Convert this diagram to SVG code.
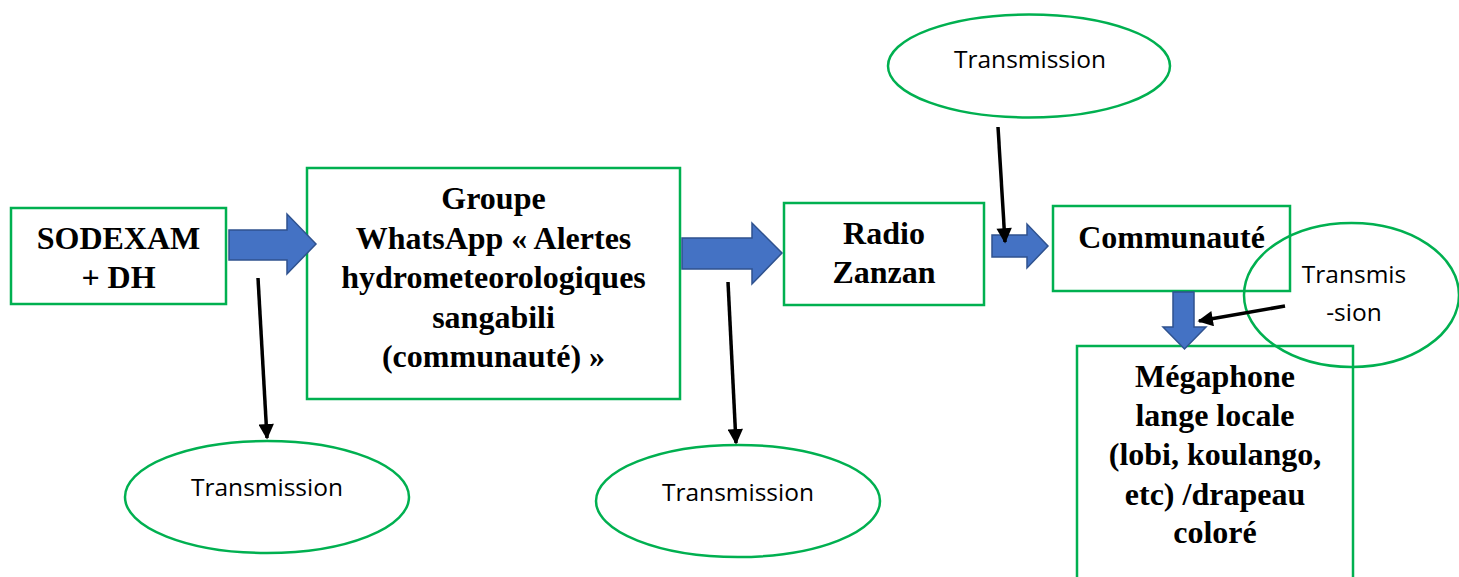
<svg xmlns="http://www.w3.org/2000/svg" width="1459" height="577" viewBox="0 0 1459 577">
<style>
.box{fill:#fff;stroke:#00B050;stroke-width:2.5}
.ell{fill:none;stroke:#00B050;stroke-width:2.5}
.bt{font-family:"Liberation Serif",serif;font-weight:bold;font-size:32px;fill:#000;text-anchor:middle}
.et{font-family:"Open Sans","Noto Sans",sans-serif;font-size:24.5px;fill:#000;text-anchor:middle}
.blk{stroke:#000;stroke-width:3.5;fill:none;marker-end:url(#ah)}
.blue{fill:#4472C4;stroke:#2F528F;stroke-width:1.5}
</style>
<defs>
<marker id="ah" viewBox="0 0 10 10" refX="9" refY="5" markerWidth="4.6" markerHeight="4.4" markerUnits="strokeWidth" orient="auto">
<path d="M0,0 L10,5 L0,10 Z" fill="#000"/>
</marker>
</defs>
<g id="n-sodexam">
<rect class="box" x="11" y="208" width="215" height="96"/>
<text class="bt" x="118.5" y="249">SODEXAM</text>
<text class="bt" x="118.5" y="288">+ DH</text>
</g>
<g id="n-whatsapp">
<rect class="box" x="307" y="168" width="373" height="231"/>
<text class="bt" x="493.5" y="209">Groupe</text>
<text class="bt" x="493.5" y="248.5">WhatsApp « Alertes</text>
<text class="bt" x="493.5" y="288">hydrometeorologiques</text>
<text class="bt" x="493.5" y="327.5">sangabili</text>
<text class="bt" x="493.5" y="367">(communauté) »</text>
</g>
<g id="n-radio">
<rect class="box" x="784" y="203" width="200" height="102"/>
<text class="bt" x="884" y="244">Radio</text>
<text class="bt" x="884" y="283">Zanzan</text>
</g>
<g id="n-communaute">
<rect class="box" x="1053" y="206" width="237" height="85"/>
<text class="bt" x="1171.5" y="248">Communauté</text>
</g>
<g id="n-megaphone">
<rect class="box" x="1077" y="346" width="276" height="240"/>
<text class="bt" x="1215" y="387">Mégaphone</text>
<text class="bt" x="1215" y="426">lange locale</text>
<text class="bt" x="1215" y="465">(lobi, koulango,</text>
<text class="bt" x="1215" y="505">etc) /drapeau</text>
<text class="bt" x="1215" y="543">coloré</text>
</g>
<g id="n-trans1">
<ellipse class="ell" cx="267" cy="497" rx="142" ry="56"/>
<text class="et" x="267" y="496">Transmission</text>
</g>
<g id="n-trans2">
<ellipse class="ell" cx="738" cy="501" rx="142" ry="56"/>
<text class="et" x="738" y="501">Transmission</text>
</g>
<g id="n-trans3">
<ellipse class="ell" cx="1029" cy="66" rx="141" ry="51.5"/>
<text class="et" x="1030" y="68">Transmission</text>
</g>
<g id="n-trans4">
<ellipse class="ell" cx="1351.5" cy="295" rx="107.5" ry="72"/>
<text class="et" x="1354" y="283">Transmis</text>
<text class="et" x="1354" y="321">-sion</text>
</g>
<g id="connectors">
<path class="blue" d="M229,230 H287 V214 L316,244 L287,274 V260 H229 Z"/>
<path class="blue" d="M682,238 H752 V223 L782,253 L752,284 V269 H682 Z"/>
<path class="blue" d="M992,235 H1027 V224 L1048,246 L1027,268 V257 H992 Z"/>
<path class="blue" d="M1173,292 H1194 V327 H1206 L1184.5,349 L1163,327 H1173 Z"/>
<line class="blk" x1="258" y1="278" x2="267" y2="438"/>
<line class="blk" x1="728" y1="282" x2="736" y2="443"/>
<line class="blk" x1="998" y1="127" x2="1005" y2="242"/>
<line class="blk" x1="1285" y1="306" x2="1199" y2="321"/>
</g>
</svg>
